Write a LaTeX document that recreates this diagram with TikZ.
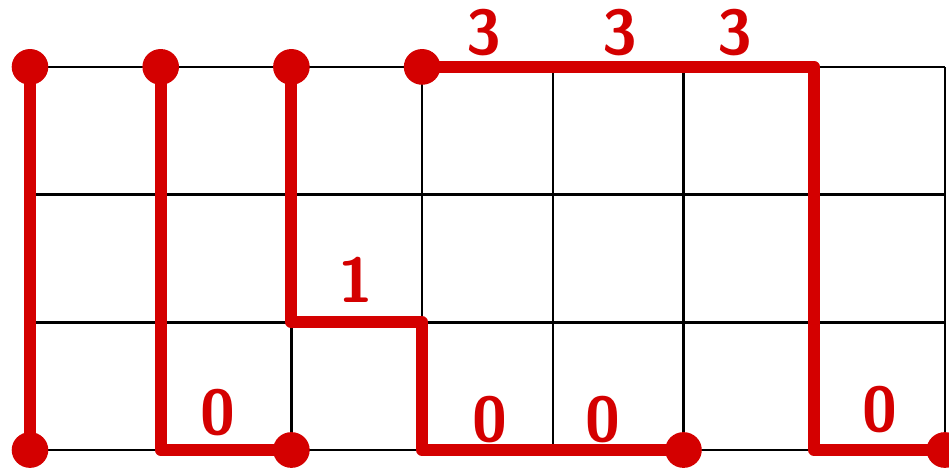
\documentclass[tikz,border=0pt]{standalone}
\usetikzlibrary{calc}
\definecolor{pen}{HTML}{D40000}
\tikzset{
    route/.style={pen, line width=3.4pt, line join=round, line cap=round},
    weight/.style={text=pen, font=\sffamily\bfseries\fontsize{18}{18}\selectfont}
}

\begin{document}
\begin{tikzpicture}
\useasboundingbox (0,0) rectangle (9.49,4.67);

\begin{scope}[shift={(0.30,0.17)}, x=1.307cm, y=1.277cm]

% Key coordinates
\foreach \i in {0,...,7}
    \foreach \j in {0,...,3}
        \coordinate (p\i\j) at (\i,\j);

% Grid
\foreach \i in {0,...,7}
    \draw[line width=0.7pt] (p\i0) -- (p\i3);
\foreach \j in {0,...,3}
    \draw[line width=0.7pt] (p0\j) -- (p7\j);

% Routes
\draw[route] (p03) -- (p00);
\draw[route] (p13) -- (p10) -- (p20);
\draw[route] (p23) -- (p21) -- (p31) -- (p30) -- (p50);
\draw[route] (p33) -- (p63) -- (p60) -- (p70);

% End points
\foreach \p in {p03,p00,p13,p20,p23,p33,p50,p70}
    \fill[pen] (\p) circle (0.14);

% Weights
\node[weight] (top1) at (3.47,3.27) {3};
\node[weight] (top2) at (4.51,3.27) {3};
\node[weight] (top3) at (5.39,3.27) {3};
\node[weight] (mid) at (2.49,1.33) {1};
\node[weight] (low1) at (1.44,0.29) {0};
\node[weight] (low2) at (3.52,0.24) {0};
\node[weight] (low3) at (4.38,0.24) {0};
\node[weight] (low4) at (6.50,0.32) {0};

\end{scope}

\end{tikzpicture}
\end{document}
